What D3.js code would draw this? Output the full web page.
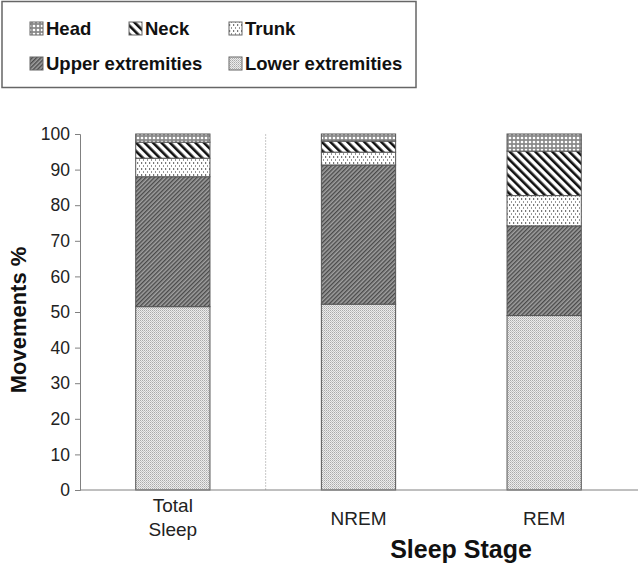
<!DOCTYPE html>
<html><head><meta charset="utf-8">
<script src="https://cdn.jsdelivr.net/npm/d3@7"></script>
<style>body{margin:0;background:#fff}svg{display:block}text{font-family:"Liberation Sans",Arial,sans-serif}</style>
</head><body><svg id="c" width="640" height="569"></svg>
<script>
const categories = [["Total","Sleep"],["NREM"],["REM"]];
const categoryKeys = ["Total Sleep","NREM","REM"];
const seriesNames = ["Lower extremities","Upper extremities","Trunk","Neck","Head"];
const lowerExt = [51.5, 52.2, 49.0];
const upperExt = [36.5, 39.1, 25.2];
const trunk = [5.2, 3.6, 8.5];
const neck = [4.5, 3.1, 12.5];
const head = [2.3, 2.0, 4.8];
const yTicks = [0,10,20,30,40,50,60,70,80,90,100];
const yLabel = "Movements %";
const xLabel = "Sleep Stage";

const svg = d3.select("#c");
const defs = svg.append("defs");
function pat(id, w, h, rot, draw){
  const p = defs.append("pattern").attr("id",id).attr("patternUnits","userSpaceOnUse")
    .attr("width",w).attr("height",h);
  if(rot) p.attr("patternTransform","rotate("+rot+")");
  draw(p);
}
pat("p-head",4,4,0,p=>{p.append("rect").attr("width",4).attr("height",4).attr("fill","#8a8a8a");
  p.append("circle").attr("cx",2).attr("cy",2).attr("r",1.35).attr("fill","#fff");});
pat("p-neck",6,6,-45,p=>{p.append("rect").attr("width",6).attr("height",6).attr("fill","#fff");
  p.append("rect").attr("width",2.6).attr("height",6).attr("fill","#111");});
pat("p-trunk",4,6,0,p=>{p.append("rect").attr("width",4).attr("height",6).attr("fill","#fff");
  p.append("rect").attr("x",1).attr("y",0).attr("width",1.2).attr("height",2).attr("fill","#777");
  p.append("rect").attr("x",3).attr("y",3).attr("width",1.2).attr("height",2).attr("fill","#999");});
pat("p-upper",3,3,45,p=>{p.append("rect").attr("width",3).attr("height",3).attr("fill","#a0a0a0");
  p.append("rect").attr("width",1.4).attr("height",3).attr("fill","#4a4a4a");});
pat("p-lower",2,2,0,p=>{p.append("rect").attr("width",2).attr("height",2).attr("fill","#ececec");
  p.append("rect").attr("width",1).attr("height",1).attr("fill","#aaaaaa");
  p.append("rect").attr("x",1).attr("y",1).attr("width",1).attr("height",1).attr("fill","#c4c4c4");});
const patId = {"Lower extremities":"p-lower","Upper extremities":"p-upper","Trunk":"p-trunk","Neck":"p-neck","Head":"p-head"};

const x = d3.scaleBand().domain(categoryKeys).range([80,637]).paddingInner(0.6).paddingOuter(0.3);
const y = d3.scaleLinear().domain([0,100]).range([490,134]);

const table = categoryKeys.map((k,i)=>({key:k,"Lower extremities":lowerExt[i],"Upper extremities":upperExt[i],"Trunk":trunk[i],"Neck":neck[i],"Head":head[i]}));
const stacked = d3.stack().keys(seriesNames)(table);

// separator
const sepX = (x(categoryKeys[0]) + x.bandwidth() + x(categoryKeys[1]))/2;
svg.append("line").attr("x1",sepX).attr("x2",sepX).attr("y1",y(100)).attr("y2",y(0))
  .attr("stroke","#c8c8c8").attr("stroke-width",1).attr("stroke-dasharray","2,1");

// bars
svg.append("g").selectAll("g").data(stacked).join("g")
  .attr("fill",d=>"url(#"+patId[d.key]+")")
  .selectAll("rect").data(d=>d).join("rect")
  .attr("x",d=>x(d.data.key)).attr("width",x.bandwidth())
  .attr("y",d=>y(d[1])).attr("height",d=>y(d[0])-y(d[1]))
  .attr("stroke","#555").attr("stroke-width",1);

// axes
const ya = svg.append("g").attr("transform","translate(80,0)")
  .call(d3.axisLeft(y).tickValues(yTicks).tickSize(5).tickPadding(5));
ya.select(".domain").attr("stroke","#808080");
ya.selectAll(".tick line").attr("stroke","#808080");
ya.selectAll("text").attr("font-size",17.5).attr("fill","#222").attr("font-family","Liberation Sans, Arial, sans-serif");

svg.append("line").attr("x1",80).attr("x2",638).attr("y1",y(0)).attr("y2",y(0)).attr("stroke","#808080");

// category labels
categories.forEach((lines,i)=>{
  const cx = x(categoryKeys[i]) + x.bandwidth()/2;
  const t = svg.append("text").attr("text-anchor","middle").attr("font-size",19).attr("fill","#222");
  const startY = lines.length===1 ? 525 : 512;
  lines.forEach((ln,j)=>t.append("tspan").attr("x",cx).attr("y",startY+j*24).text(ln));
});

svg.append("text").attr("x",461).attr("y",558).attr("text-anchor","middle")
  .attr("font-size",25).attr("font-weight","bold").attr("fill","#111").text(xLabel);
svg.append("text").attr("transform","translate(26,320) rotate(-90)").attr("text-anchor","middle")
  .attr("font-size",22).attr("font-weight","bold").attr("fill","#111").text(yLabel);

// legend
svg.append("rect").attr("x",2).attr("y",1.5).attr("width",414).attr("height",86)
  .attr("fill","#fff").attr("stroke","#666").attr("stroke-width",1.5);
const legendItems = [
  {name:"Head",label:"Head",lx:30,ly:22},
  {name:"Neck",label:"Neck",lx:129,ly:22},
  {name:"Trunk",label:"Trunk",lx:229,ly:22},
  {name:"Upper extremities",label:"Upper extremities",lx:30,ly:57},
  {name:"Lower extremities",label:"Lower extremities",lx:229,ly:57}
];
const lg = svg.append("g").selectAll("g").data(legendItems).join("g");
lg.append("rect").attr("x",d=>d.lx).attr("y",d=>d.ly).attr("width",13).attr("height",13)
  .attr("fill",d=>"url(#"+patId[d.name]+")").attr("stroke","#666");
lg.append("text").attr("x",d=>d.lx+16).attr("y",d=>d.ly+13).attr("font-size",18.5)
  .attr("font-weight","bold").attr("fill","#111").text(d=>d.label);
</script></body></html>
